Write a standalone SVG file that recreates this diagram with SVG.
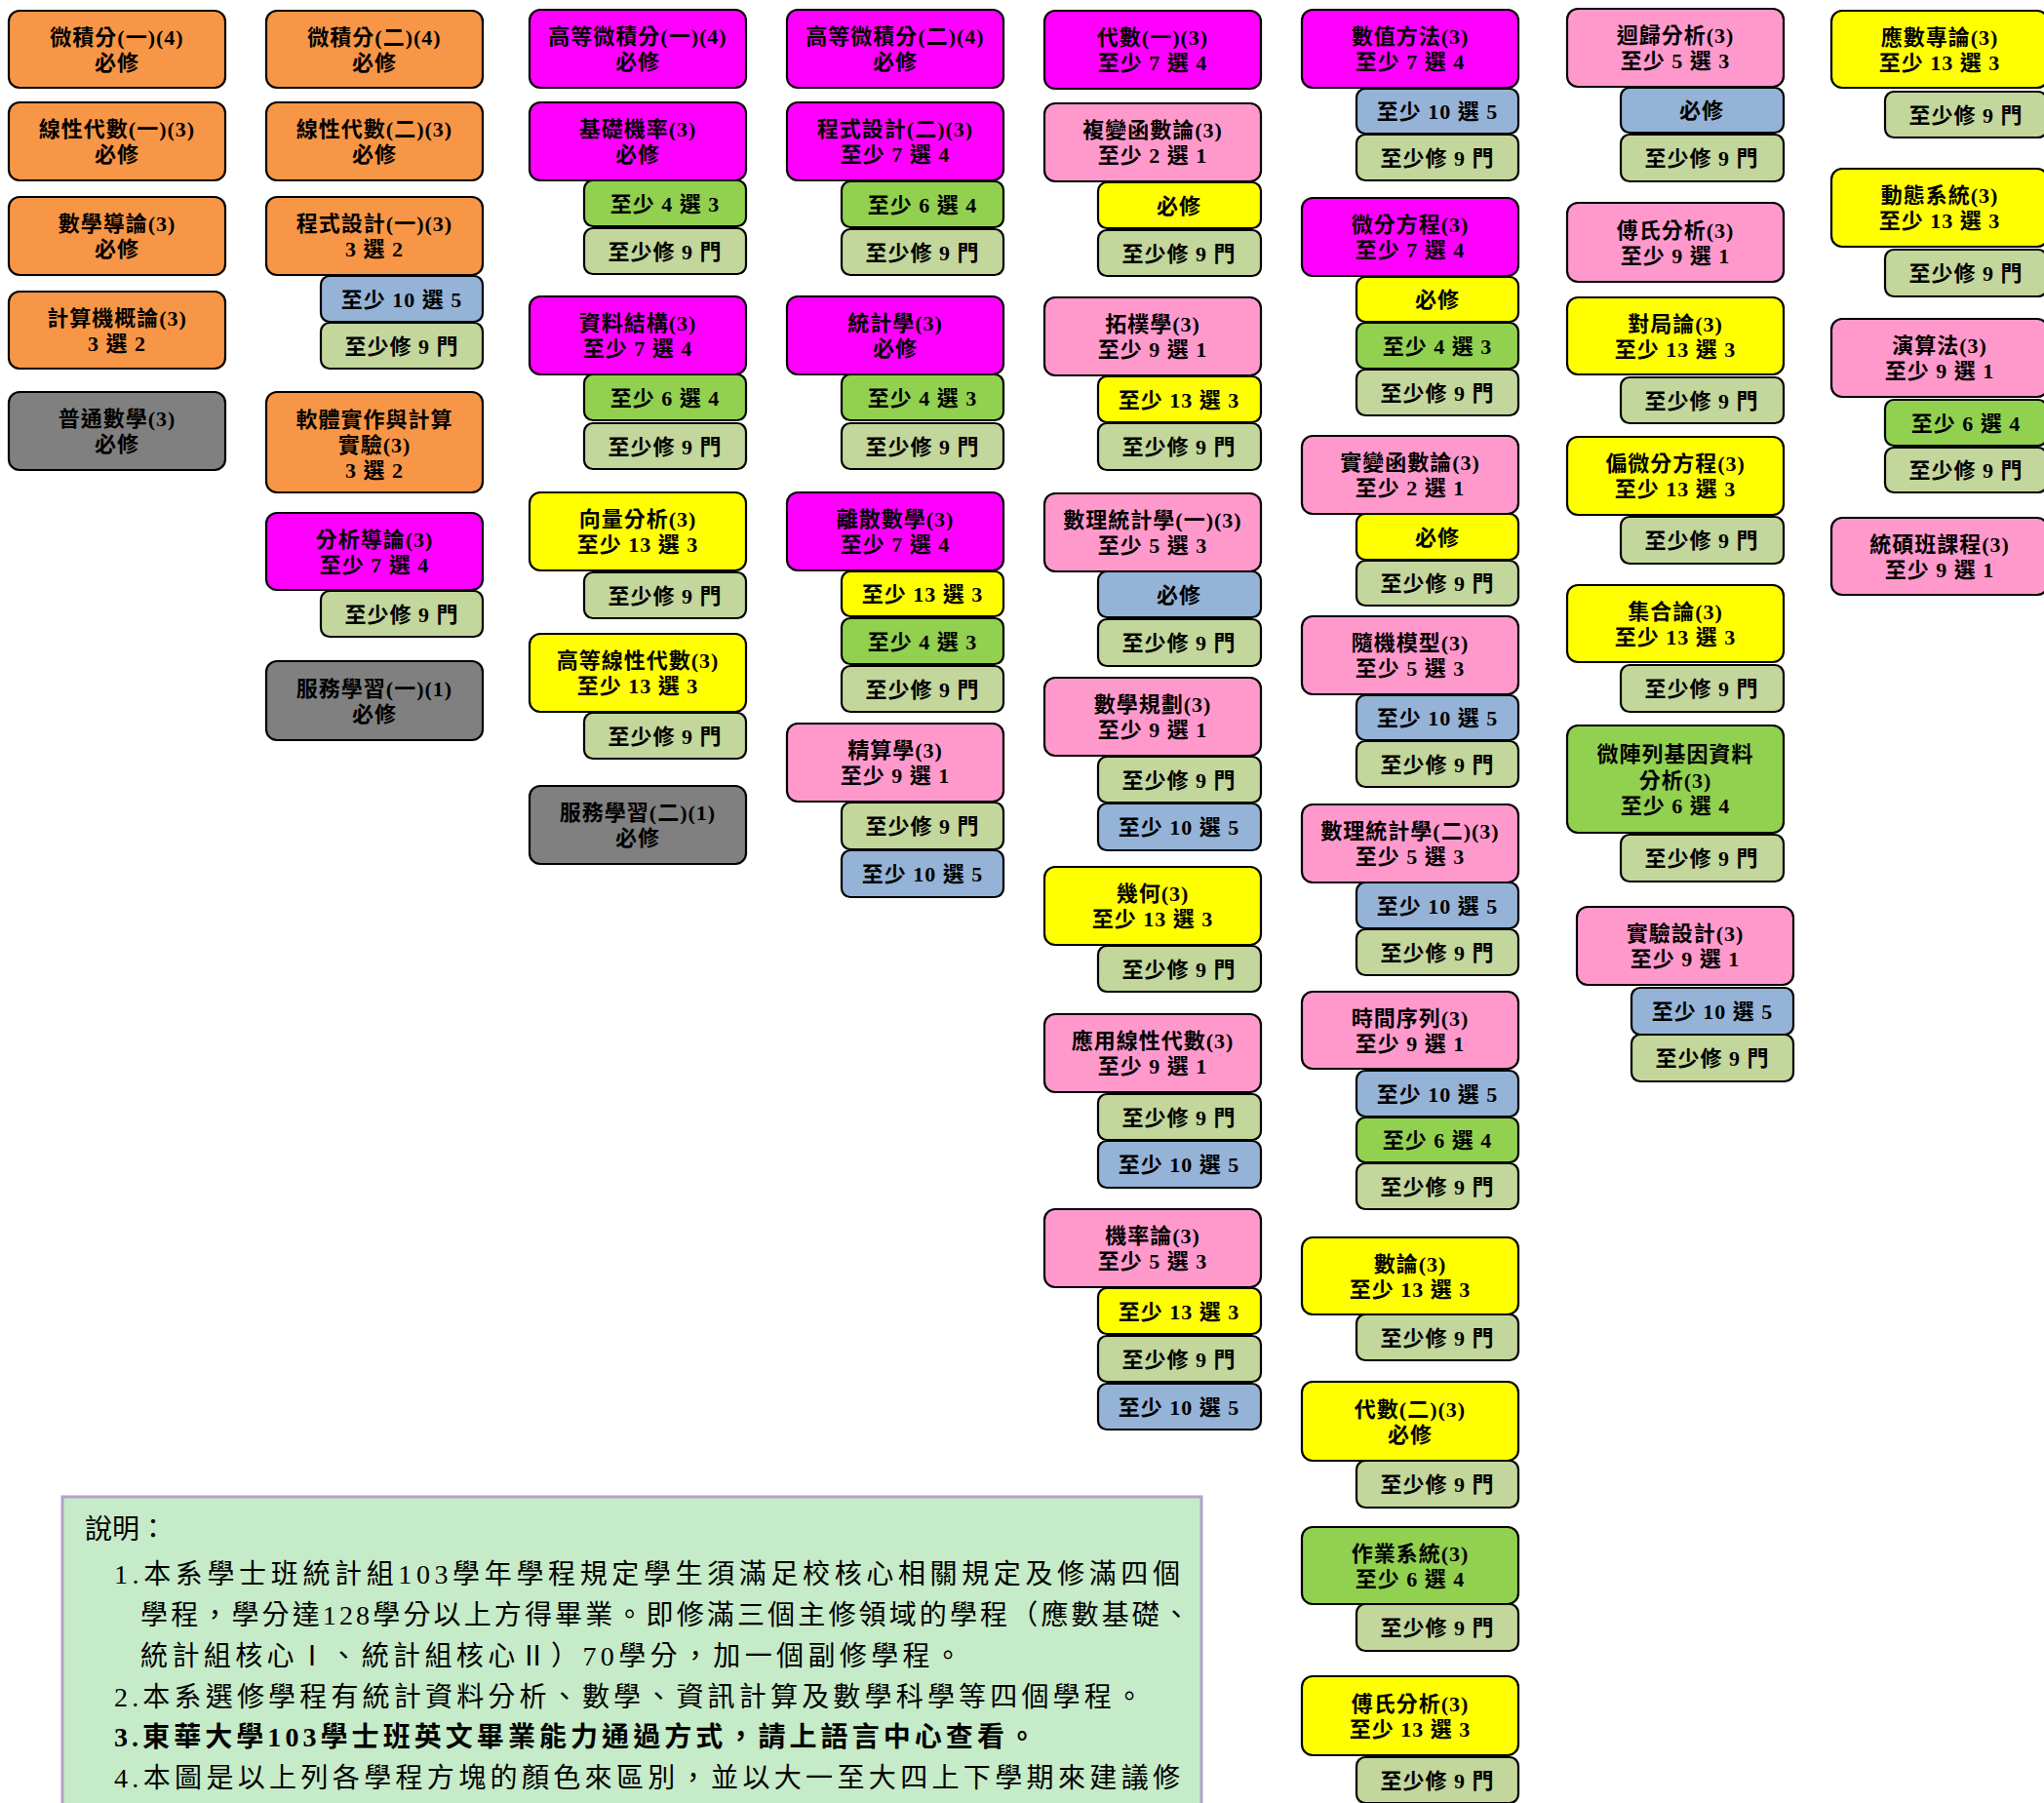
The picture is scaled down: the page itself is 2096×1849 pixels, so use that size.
<svg xmlns="http://www.w3.org/2000/svg" width="2096" height="1849" viewBox="0 0 2096 1849">
<style>
rect.b{stroke:#000;stroke-width:2.2}
.or{fill:#F79646}.mg{fill:#FF00FF}.pk{fill:#FF99CC}.yl{fill:#FFFF00}.gr{fill:#92D050}.ol{fill:#C3D69B}.bl{fill:#95B3D7}.gy{fill:#808080}
text.t{font-family:"Liberation Serif","Noto Sans CJK TC",serif;font-weight:700;font-size:22px;text-anchor:middle;letter-spacing:1px;fill:#000}
text.n{font-family:"Liberation Serif","Noto Sans CJK TC",serif;font-size:28px;fill:#000}
</style>
<rect x="0" y="0" width="2096" height="1849" fill="#fff"/>
<g id="connectors"></g>
<g id="nodes">
<!-- Column 1 -->
<g id="calc1"><rect class="b or" x="9" y="11" width="222" height="79" rx="11"/><text class="t" x="120" y="46">微積分(一)(4)</text><text class="t" x="120" y="72">必修</text></g>
<g id="linalg1"><rect class="b or" x="9" y="105" width="222" height="80" rx="11"/><text class="t" x="120" y="140">線性代數(一)(3)</text><text class="t" x="120" y="166">必修</text></g>
<g id="intro-math"><rect class="b or" x="9" y="202" width="222" height="80" rx="11"/><text class="t" x="120" y="237">數學導論(3)</text><text class="t" x="120" y="263">必修</text></g>
<g id="intro-cs"><rect class="b or" x="9" y="299" width="222" height="79" rx="11"/><text class="t" x="120" y="334">計算機概論(3)</text><text class="t" x="120" y="360">3 選 2</text></g>
<g id="gen-math"><rect class="b gy" x="9" y="402" width="222" height="80" rx="11"/><text class="t" x="120" y="437">普通數學(3)</text><text class="t" x="120" y="463">必修</text></g>
<!-- Column 2 -->
<g id="calc2"><rect class="b or" x="273" y="11" width="222" height="79" rx="11"/><text class="t" x="384" y="46">微積分(二)(4)</text><text class="t" x="384" y="72">必修</text></g>
<g id="linalg2"><rect class="b or" x="273" y="105" width="222" height="80" rx="11"/><text class="t" x="384" y="140">線性代數(二)(3)</text><text class="t" x="384" y="166">必修</text></g>
<g id="prog1"><rect class="b or" x="273" y="202" width="222" height="80" rx="11"/><text class="t" x="384" y="237">程式設計(一)(3)</text><text class="t" x="384" y="263">3 選 2</text>
<g id="prog1-s1"><rect class="b bl" x="329" y="283" width="166" height="47" rx="9"/><text class="t" x="412" y="314.5">至少 10 選 5</text></g>
<g id="prog1-s2"><rect class="b ol" x="329" y="331" width="166" height="47" rx="9"/><text class="t" x="412" y="362.5">至少修 9 門</text></g></g>
<g id="software-lab"><rect class="b or" x="273" y="402" width="222" height="103" rx="11"/><text class="t" x="384" y="438">軟體實作與計算</text><text class="t" x="384" y="464">實驗(3)</text><text class="t" x="384" y="490">3 選 2</text></g>
<g id="analysis-intro"><rect class="b mg" x="273" y="526" width="222" height="79" rx="11"/><text class="t" x="384" y="561">分析導論(3)</text><text class="t" x="384" y="587">至少 7 選 4</text>
<g id="analysis-intro-s1"><rect class="b ol" x="329" y="606" width="166" height="47" rx="9"/><text class="t" x="412" y="637.5">至少修 9 門</text></g></g>
<g id="service1"><rect class="b gy" x="273" y="678" width="222" height="81" rx="11"/><text class="t" x="384" y="714">服務學習(一)(1)</text><text class="t" x="384" y="740">必修</text></g>
<!-- Column 3 -->
<g id="adv-calc1"><rect class="b mg" x="543" y="10" width="222" height="80" rx="11"/><text class="t" x="654" y="45">高等微積分(一)(4)</text><text class="t" x="654" y="71">必修</text></g>
<g id="prob-basic"><rect class="b mg" x="543" y="105" width="222" height="80" rx="11"/><text class="t" x="654" y="140">基礎機率(3)</text><text class="t" x="654" y="166">必修</text>
<g id="prob-basic-s1"><rect class="b gr" x="599" y="185" width="166" height="47" rx="9"/><text class="t" x="682" y="216.5">至少 4 選 3</text></g>
<g id="prob-basic-s2"><rect class="b ol" x="599" y="234" width="166" height="47" rx="9"/><text class="t" x="682" y="265.5">至少修 9 門</text></g></g>
<g id="data-struct"><rect class="b mg" x="543" y="304" width="222" height="80" rx="11"/><text class="t" x="654" y="339">資料結構(3)</text><text class="t" x="654" y="365">至少 7 選 4</text>
<g id="data-struct-s1"><rect class="b gr" x="599" y="384" width="166" height="47" rx="9"/><text class="t" x="682" y="415.5">至少 6 選 4</text></g>
<g id="data-struct-s2"><rect class="b ol" x="599" y="434" width="166" height="47" rx="9"/><text class="t" x="682" y="465.5">至少修 9 門</text></g></g>
<g id="vector-anal"><rect class="b yl" x="543" y="505" width="222" height="80" rx="11"/><text class="t" x="654" y="540">向量分析(3)</text><text class="t" x="654" y="566">至少 13 選 3</text>
<g id="vector-anal-s1"><rect class="b ol" x="599" y="587" width="166" height="47" rx="9"/><text class="t" x="682" y="618.5">至少修 9 門</text></g></g>
<g id="adv-linalg"><rect class="b yl" x="543" y="650" width="222" height="80" rx="11"/><text class="t" x="654" y="685">高等線性代數(3)</text><text class="t" x="654" y="711">至少 13 選 3</text>
<g id="adv-linalg-s1"><rect class="b ol" x="599" y="731" width="166" height="47" rx="9"/><text class="t" x="682" y="762.5">至少修 9 門</text></g></g>
<g id="service2"><rect class="b gy" x="543" y="806" width="222" height="80" rx="11"/><text class="t" x="654" y="841">服務學習(二)(1)</text><text class="t" x="654" y="867">必修</text></g>
<!-- Column 4 -->
<g id="adv-calc2"><rect class="b mg" x="807" y="10" width="222" height="80" rx="11"/><text class="t" x="918" y="45">高等微積分(二)(4)</text><text class="t" x="918" y="71">必修</text></g>
<g id="prog2"><rect class="b mg" x="807" y="105" width="222" height="80" rx="11"/><text class="t" x="918" y="140">程式設計(二)(3)</text><text class="t" x="918" y="166">至少 7 選 4</text>
<g id="prog2-s1"><rect class="b gr" x="863" y="186" width="166" height="47" rx="9"/><text class="t" x="946" y="217.5">至少 6 選 4</text></g>
<g id="prog2-s2"><rect class="b ol" x="863" y="235" width="166" height="47" rx="9"/><text class="t" x="946" y="266.5">至少修 9 門</text></g></g>
<g id="statistics"><rect class="b mg" x="807" y="304" width="222" height="80" rx="11"/><text class="t" x="918" y="339">統計學(3)</text><text class="t" x="918" y="365">必修</text>
<g id="statistics-s1"><rect class="b gr" x="863" y="384" width="166" height="47" rx="9"/><text class="t" x="946" y="415.5">至少 4 選 3</text></g>
<g id="statistics-s2"><rect class="b ol" x="863" y="434" width="166" height="47" rx="9"/><text class="t" x="946" y="465.5">至少修 9 門</text></g></g>
<g id="discrete"><rect class="b mg" x="807" y="505" width="222" height="80" rx="11"/><text class="t" x="918" y="540">離散數學(3)</text><text class="t" x="918" y="566">至少 7 選 4</text>
<g id="discrete-s1"><rect class="b yl" x="863" y="586" width="166" height="46" rx="9"/><text class="t" x="946" y="617">至少 13 選 3</text></g>
<g id="discrete-s2"><rect class="b gr" x="863" y="634" width="166" height="47" rx="9"/><text class="t" x="946" y="665.5">至少 4 選 3</text></g>
<g id="discrete-s3"><rect class="b ol" x="863" y="683" width="166" height="47" rx="9"/><text class="t" x="946" y="714.5">至少修 9 門</text></g></g>
<g id="actuarial"><rect class="b pk" x="807" y="742" width="222" height="80" rx="11"/><text class="t" x="918" y="777">精算學(3)</text><text class="t" x="918" y="803">至少 9 選 1</text>
<g id="actuarial-s1"><rect class="b ol" x="863" y="823" width="166" height="48" rx="9"/><text class="t" x="946" y="855">至少修 9 門</text></g>
<g id="actuarial-s2"><rect class="b bl" x="863" y="872" width="166" height="48" rx="9"/><text class="t" x="946" y="904">至少 10 選 5</text></g></g>
<!-- Column 5 -->
<g id="algebra1"><rect class="b mg" x="1071" y="11" width="222" height="80" rx="11"/><text class="t" x="1182" y="46">代數(一)(3)</text><text class="t" x="1182" y="72">至少 7 選 4</text></g>
<g id="complex"><rect class="b pk" x="1071" y="106" width="222" height="80" rx="11"/><text class="t" x="1182" y="141">複變函數論(3)</text><text class="t" x="1182" y="167">至少 2 選 1</text>
<g id="complex-s1"><rect class="b yl" x="1126" y="187" width="167" height="47" rx="9"/><text class="t" x="1209" y="218.5">必修</text></g>
<g id="complex-s2"><rect class="b ol" x="1126" y="236" width="167" height="47" rx="9"/><text class="t" x="1209" y="267.5">至少修 9 門</text></g></g>
<g id="topology"><rect class="b pk" x="1071" y="305" width="222" height="80" rx="11"/><text class="t" x="1182" y="340">拓樸學(3)</text><text class="t" x="1182" y="366">至少 9 選 1</text>
<g id="topology-s1"><rect class="b yl" x="1126" y="386" width="167" height="47" rx="9"/><text class="t" x="1209" y="417.5">至少 13 選 3</text></g>
<g id="topology-s2"><rect class="b ol" x="1126" y="434" width="167" height="48" rx="9"/><text class="t" x="1209" y="466">至少修 9 門</text></g></g>
<g id="math-stat1"><rect class="b pk" x="1071" y="506" width="222" height="80" rx="11"/><text class="t" x="1182" y="541">數理統計學(一)(3)</text><text class="t" x="1182" y="567">至少 5 選 3</text>
<g id="math-stat1-s1"><rect class="b bl" x="1126" y="586" width="167" height="47" rx="9"/><text class="t" x="1209" y="617.5">必修</text></g>
<g id="math-stat1-s2"><rect class="b ol" x="1126" y="635" width="167" height="48" rx="9"/><text class="t" x="1209" y="667">至少修 9 門</text></g></g>
<g id="math-prog"><rect class="b pk" x="1071" y="695" width="222" height="80" rx="11"/><text class="t" x="1182" y="730">數學規劃(3)</text><text class="t" x="1182" y="756">至少 9 選 1</text>
<g id="math-prog-s1"><rect class="b ol" x="1126" y="776" width="167" height="47" rx="9"/><text class="t" x="1209" y="807.5">至少修 9 門</text></g>
<g id="math-prog-s2"><rect class="b bl" x="1126" y="824" width="167" height="48" rx="9"/><text class="t" x="1209" y="856">至少 10 選 5</text></g></g>
<g id="geometry"><rect class="b yl" x="1071" y="889" width="222" height="80" rx="11"/><text class="t" x="1182" y="924">幾何(3)</text><text class="t" x="1182" y="950">至少 13 選 3</text>
<g id="geometry-s1"><rect class="b ol" x="1126" y="970" width="167" height="47" rx="9"/><text class="t" x="1209" y="1001.5">至少修 9 門</text></g></g>
<g id="applied-linalg"><rect class="b pk" x="1071" y="1040" width="222" height="80" rx="11"/><text class="t" x="1182" y="1075">應用線性代數(3)</text><text class="t" x="1182" y="1101">至少 9 選 1</text>
<g id="applied-linalg-s1"><rect class="b ol" x="1126" y="1122" width="167" height="47" rx="9"/><text class="t" x="1209" y="1153.5">至少修 9 門</text></g>
<g id="applied-linalg-s2"><rect class="b bl" x="1126" y="1170" width="167" height="48" rx="9"/><text class="t" x="1209" y="1202">至少 10 選 5</text></g></g>
<g id="probability"><rect class="b pk" x="1071" y="1240" width="222" height="80" rx="11"/><text class="t" x="1182" y="1275">機率論(3)</text><text class="t" x="1182" y="1301">至少 5 選 3</text>
<g id="probability-s1"><rect class="b yl" x="1126" y="1321" width="167" height="47" rx="9"/><text class="t" x="1209" y="1352.5">至少 13 選 3</text></g>
<g id="probability-s2"><rect class="b ol" x="1126" y="1370" width="167" height="47" rx="9"/><text class="t" x="1209" y="1401.5">至少修 9 門</text></g>
<g id="probability-s3"><rect class="b bl" x="1126" y="1419" width="167" height="47" rx="9"/><text class="t" x="1209" y="1450.5">至少 10 選 5</text></g></g>
<!-- Column 6 -->
<g id="numerical"><rect class="b mg" x="1335" y="10" width="222" height="80" rx="11"/><text class="t" x="1446" y="45">數值方法(3)</text><text class="t" x="1446" y="71">至少 7 選 4</text>
<g id="numerical-s1"><rect class="b bl" x="1391" y="91" width="166" height="46" rx="9"/><text class="t" x="1474" y="122">至少 10 選 5</text></g>
<g id="numerical-s2"><rect class="b ol" x="1391" y="138" width="166" height="47" rx="9"/><text class="t" x="1474" y="169.5">至少修 9 門</text></g></g>
<g id="ode"><rect class="b mg" x="1335" y="203" width="222" height="80" rx="11"/><text class="t" x="1446" y="238">微分方程(3)</text><text class="t" x="1446" y="264">至少 7 選 4</text>
<g id="ode-s1"><rect class="b yl" x="1391" y="284" width="166" height="46" rx="9"/><text class="t" x="1474" y="315">必修</text></g>
<g id="ode-s2"><rect class="b gr" x="1391" y="331" width="166" height="47" rx="9"/><text class="t" x="1474" y="362.5">至少 4 選 3</text></g>
<g id="ode-s3"><rect class="b ol" x="1391" y="379" width="166" height="47" rx="9"/><text class="t" x="1474" y="410.5">至少修 9 門</text></g></g>
<g id="real-anal"><rect class="b pk" x="1335" y="447" width="222" height="80" rx="11"/><text class="t" x="1446" y="482">實變函數論(3)</text><text class="t" x="1446" y="508">至少 2 選 1</text>
<g id="real-anal-s1"><rect class="b yl" x="1391" y="527" width="166" height="47" rx="9"/><text class="t" x="1474" y="558.5">必修</text></g>
<g id="real-anal-s2"><rect class="b ol" x="1391" y="575" width="166" height="46" rx="9"/><text class="t" x="1474" y="606">至少修 9 門</text></g></g>
<g id="stoch-model"><rect class="b pk" x="1335" y="632" width="222" height="80" rx="11"/><text class="t" x="1446" y="667">隨機模型(3)</text><text class="t" x="1446" y="693">至少 5 選 3</text>
<g id="stoch-model-s1"><rect class="b bl" x="1391" y="713" width="166" height="46" rx="9"/><text class="t" x="1474" y="744">至少 10 選 5</text></g>
<g id="stoch-model-s2"><rect class="b ol" x="1391" y="760" width="166" height="47" rx="9"/><text class="t" x="1474" y="791.5">至少修 9 門</text></g></g>
<g id="math-stat2"><rect class="b pk" x="1335" y="825" width="222" height="80" rx="11"/><text class="t" x="1446" y="860">數理統計學(二)(3)</text><text class="t" x="1446" y="886">至少 5 選 3</text>
<g id="math-stat2-s1"><rect class="b bl" x="1391" y="905" width="166" height="47" rx="9"/><text class="t" x="1474" y="936.5">至少 10 選 5</text></g>
<g id="math-stat2-s2"><rect class="b ol" x="1391" y="953" width="166" height="47" rx="9"/><text class="t" x="1474" y="984.5">至少修 9 門</text></g></g>
<g id="time-series"><rect class="b pk" x="1335" y="1017" width="222" height="79" rx="11"/><text class="t" x="1446" y="1052">時間序列(3)</text><text class="t" x="1446" y="1078">至少 9 選 1</text>
<g id="time-series-s1"><rect class="b bl" x="1391" y="1098" width="166" height="47" rx="9"/><text class="t" x="1474" y="1129.5">至少 10 選 5</text></g>
<g id="time-series-s2"><rect class="b gr" x="1391" y="1146" width="166" height="46" rx="9"/><text class="t" x="1474" y="1177">至少 6 選 4</text></g>
<g id="time-series-s3"><rect class="b ol" x="1391" y="1193" width="166" height="47" rx="9"/><text class="t" x="1474" y="1224.5">至少修 9 門</text></g></g>
<g id="number-theory"><rect class="b yl" x="1335" y="1269" width="222" height="79" rx="11"/><text class="t" x="1446" y="1304">數論(3)</text><text class="t" x="1446" y="1330">至少 13 選 3</text>
<g id="number-theory-s1"><rect class="b ol" x="1391" y="1348" width="166" height="47" rx="9"/><text class="t" x="1474" y="1379.5">至少修 9 門</text></g></g>
<g id="algebra2"><rect class="b yl" x="1335" y="1417" width="222" height="81" rx="11"/><text class="t" x="1446" y="1453">代數(二)(3)</text><text class="t" x="1446" y="1479">必修</text>
<g id="algebra2-s1"><rect class="b ol" x="1391" y="1498" width="166" height="48" rx="9"/><text class="t" x="1474" y="1530">至少修 9 門</text></g></g>
<g id="os"><rect class="b gr" x="1335" y="1566" width="222" height="79" rx="11"/><text class="t" x="1446" y="1601">作業系統(3)</text><text class="t" x="1446" y="1627">至少 6 選 4</text>
<g id="os-s1"><rect class="b ol" x="1391" y="1645" width="166" height="48" rx="9"/><text class="t" x="1474" y="1677">至少修 9 門</text></g></g>
<g id="fourier-b"><rect class="b yl" x="1335" y="1719" width="222" height="81" rx="11"/><text class="t" x="1446" y="1755">傅氏分析(3)</text><text class="t" x="1446" y="1781">至少 13 選 3</text>
<g id="fourier-b-s1"><rect class="b ol" x="1391" y="1802" width="166" height="47" rx="9"/><text class="t" x="1474" y="1833.5">至少修 9 門</text></g></g>
<!-- Column 7 -->
<g id="regression"><rect class="b pk" x="1607" y="9" width="222" height="80" rx="11"/><text class="t" x="1718" y="44">迴歸分析(3)</text><text class="t" x="1718" y="70">至少 5 選 3</text>
<g id="regression-s1"><rect class="b bl" x="1662" y="90" width="167" height="46" rx="9"/><text class="t" x="1745" y="121">必修</text></g>
<g id="regression-s2"><rect class="b ol" x="1662" y="138" width="167" height="48" rx="9"/><text class="t" x="1745" y="170">至少修 9 門</text></g></g>
<g id="fourier-a"><rect class="b pk" x="1607" y="208" width="222" height="81" rx="11"/><text class="t" x="1718" y="244">傅氏分析(3)</text><text class="t" x="1718" y="270">至少 9 選 1</text></g>
<g id="game-theory"><rect class="b yl" x="1607" y="305" width="222" height="79" rx="11"/><text class="t" x="1718" y="340">對局論(3)</text><text class="t" x="1718" y="366">至少 13 選 3</text>
<g id="game-theory-s1"><rect class="b ol" x="1662" y="387" width="167" height="47" rx="9"/><text class="t" x="1745" y="418.5">至少修 9 門</text></g></g>
<g id="pde"><rect class="b yl" x="1607" y="448" width="222" height="80" rx="11"/><text class="t" x="1718" y="483">偏微分方程(3)</text><text class="t" x="1718" y="509">至少 13 選 3</text>
<g id="pde-s1"><rect class="b ol" x="1662" y="530" width="167" height="48" rx="9"/><text class="t" x="1745" y="562">至少修 9 門</text></g></g>
<g id="set-theory"><rect class="b yl" x="1607" y="600" width="222" height="79" rx="11"/><text class="t" x="1718" y="635">集合論(3)</text><text class="t" x="1718" y="661">至少 13 選 3</text>
<g id="set-theory-s1"><rect class="b ol" x="1662" y="682" width="167" height="48" rx="9"/><text class="t" x="1745" y="714">至少修 9 門</text></g></g>
<g id="microarray"><rect class="b gr" x="1607" y="744" width="222" height="110" rx="11"/><text class="t" x="1718" y="781">微陣列基因資料</text><text class="t" x="1718" y="808">分析(3)</text><text class="t" x="1718" y="834">至少 6 選 4</text>
<g id="microarray-s1"><rect class="b ol" x="1662" y="856" width="167" height="48" rx="9"/><text class="t" x="1745" y="888">至少修 9 門</text></g></g>
<g id="doe"><rect class="b pk" x="1617" y="930" width="222" height="80" rx="11"/><text class="t" x="1728" y="965">實驗設計(3)</text><text class="t" x="1728" y="991">至少 9 選 1</text>
<g id="doe-s1"><rect class="b bl" x="1673" y="1013" width="166" height="48" rx="9"/><text class="t" x="1756" y="1045">至少 10 選 5</text></g>
<g id="doe-s2"><rect class="b ol" x="1673" y="1061" width="166" height="48" rx="9"/><text class="t" x="1756" y="1093">至少修 9 門</text></g></g>
<!-- Column 8 -->
<g id="applied-topics"><rect class="b yl" x="1878" y="11" width="222" height="79" rx="11"/><text class="t" x="1989" y="46">應數專論(3)</text><text class="t" x="1989" y="72">至少 13 選 3</text>
<g id="applied-topics-s1"><rect class="b ol" x="1933" y="94" width="166" height="47" rx="9"/><text class="t" x="2016" y="125.5">至少修 9 門</text></g></g>
<g id="dyn-sys"><rect class="b yl" x="1878" y="173" width="222" height="80" rx="11"/><text class="t" x="1989" y="208">動態系統(3)</text><text class="t" x="1989" y="234">至少 13 選 3</text>
<g id="dyn-sys-s1"><rect class="b ol" x="1933" y="256" width="166" height="48" rx="9"/><text class="t" x="2016" y="288">至少修 9 門</text></g></g>
<g id="algorithms"><rect class="b pk" x="1878" y="327" width="222" height="80" rx="11"/><text class="t" x="1989" y="362">演算法(3)</text><text class="t" x="1989" y="388">至少 9 選 1</text>
<g id="algorithms-s1"><rect class="b gr" x="1933" y="410" width="166" height="47" rx="9"/><text class="t" x="2016" y="441.5">至少 6 選 4</text></g>
<g id="algorithms-s2"><rect class="b ol" x="1933" y="459" width="166" height="46" rx="9"/><text class="t" x="2016" y="490">至少修 9 門</text></g></g>
<g id="grad-course"><rect class="b pk" x="1878" y="531" width="222" height="79" rx="11"/><text class="t" x="1989" y="566">統碩班課程(3)</text><text class="t" x="1989" y="592">至少 9 選 1</text></g>
</g>
<g id="legend">
<rect x="64" y="1535" width="1168" height="330" fill="#C6EBC8" stroke="#B3A2C7" stroke-width="3"/>
<text class="n" x="87" y="1578">說明：</text>
<text class="n" x="117" y="1624" textLength="1093" lengthAdjust="spacing">1.本系學士班統計組103學年學程規定學生須滿足校核心相關規定及修滿四個</text>
<text class="n" x="144" y="1666" textLength="1076" lengthAdjust="spacing">學程，學分達128學分以上方得畢業。即修滿三個主修領域的學程（應數基礎、</text>
<text class="n" x="144" y="1708" textLength="842" lengthAdjust="spacing">統計組核心Ⅰ、統計組核心Ⅱ）70學分，加一個副修學程。</text>
<text class="n" x="117" y="1750" textLength="1055" lengthAdjust="spacing">2.本系選修學程有統計資料分析、數學、資訊計算及數學科學等四個學程。</text>
<text class="n" x="117" y="1791" textLength="945" lengthAdjust="spacing" font-weight="700">3.東華大學103學士班英文畢業能力通過方式，請上語言中心查看。</text>
<text class="n" x="117" y="1833" textLength="1093" lengthAdjust="spacing">4.本圖是以上列各學程方塊的顏色來區別，並以大一至大四上下學期來建議修</text>
</g>
</svg>
